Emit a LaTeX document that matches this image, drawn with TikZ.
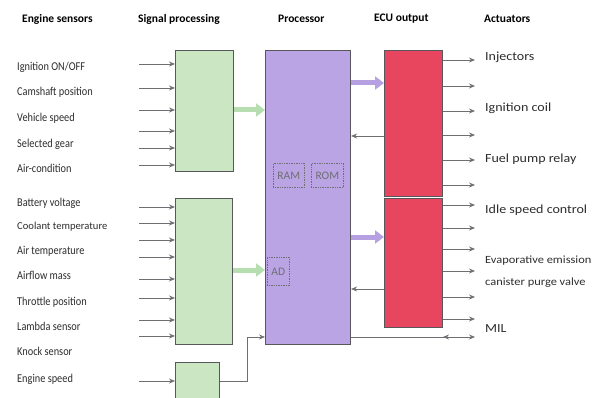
\documentclass[tikz,border=0pt]{standalone}
\usepackage{fontspec}
\setmainfont{Carlito}
\newfontfamily\narrowface[FakeStretch=0.86]{Carlito}
\newfontfamily\wideface[FakeStretch=1.13]{Carlito}
\usetikzlibrary{arrows.meta,calc}
\definecolor{boxgreen}{RGB}{203,230,194}
\definecolor{arrgreen}{RGB}{183,222,176}
\definecolor{boxviolet}{RGB}{186,164,228}
\definecolor{arrviolet}{RGB}{183,160,226}
\definecolor{boxred}{RGB}{232,70,94}
\definecolor{edgegray}{RGB}{88,88,92}
\definecolor{wiregray}{RGB}{110,110,115}
\definecolor{textgray}{RGB}{45,45,45}
\tikzstyle{block} = [draw=edgegray,line width=1.1pt,anchor=north west,inner sep=0pt]
\tikzstyle{wire} = [draw=wiregray,line width=0.8pt,-{Stealth[length=6pt,width=5pt]}]
\tikzstyle{fat} = [line width=5pt,-{Triangle[length=9pt,width=13pt]}]
\tikzstyle{mem} = [draw=wiregray,densely dotted,line width=0.7pt,anchor=north west,inner sep=0pt,
  font=\fontsize{11.5}{13}\selectfont,text=wiregray]
\tikzstyle{sensor} = [anchor=west,inner sep=0pt,text=textgray,font=\narrowface\fontsize{12}{14}\selectfont,
  text height=1.6ex,text depth=.35ex]
\tikzstyle{actuator} = [anchor=west,inner sep=0pt,text=textgray,font=\wideface\fontsize{12.4}{14}\selectfont,
  text height=1.6ex,text depth=.35ex]
\tikzstyle{head} = [anchor=west,inner sep=0pt,font=\bfseries\fontsize{11.5}{13}\selectfont]

\begin{document}
\begin{tikzpicture}[x=1pt,y=1pt,yscale=-1]
\useasboundingbox (0,0) rectangle (599,398);

% Headers
\node[head] (hsens) at (22,19) {Engine sensors};
\node[head] (hsig) at (138,19) {Signal processing};
\node[head] (hproc) at (278,19) {Processor};
\node[head] (hecu) at (374,19) {ECU output};
\node[head] (hact) at (484,19) {Actuators};

% Blocks
\node[block,fill=boxgreen,minimum width=58pt,minimum height=121pt] (sig1) at (175,50) {};
\node[block,fill=boxgreen,minimum width=57pt,minimum height=146pt] (sig2) at (175,198) {};
\node[block,fill=boxgreen,minimum width=44pt,minimum height=45pt] (sig3) at (175,362) {};
\node[block,fill=boxviolet,minimum width=85pt,minimum height=294pt] (proc) at (265,50) {};
\node[block,fill=boxred,minimum width=58pt,minimum height=146pt] (ecu1) at (384,50) {};
\node[block,fill=boxred,minimum width=58pt,minimum height=129pt] (ecu2) at (384,198) {};

% Memory and converter inside the processor
\node[mem,minimum width=31pt,minimum height=24pt] (ram) at (273,163) {RAM};
\node[mem,minimum width=32pt,minimum height=24pt] (rom) at (311,163) {ROM};
\node[mem,minimum width=22pt,minimum height=28pt] (ad) at (267,257) {AD};

% Sensor labels
\node[sensor] (s1) at (17,68) {Ignition ON/OFF};
\node[sensor] (s2) at (17,93) {Camshaft position};
\node[sensor] (s3) at (17,119) {Vehicle speed};
\node[sensor] (s4) at (17,145) {Selected gear};
\node[sensor] (s5) at (17,170) {Air-condition};
\node[sensor] (s6) at (17,204) {Battery voltage};
\node[sensor,font=\fontsize{10.6}{12}\selectfont] (s7) at (17,227) {Coolant temperature};
\node[sensor] (s8) at (17,252) {Air temperature};
\node[sensor] (s9) at (17,277) {Airflow mass};
\node[sensor] (s10) at (17,303) {Throttle position};
\node[sensor] (s11) at (17,328) {Lambda sensor};
\node[sensor] (s12) at (17,353) {Knock sensor};
\node[sensor] (s13) at (17,380) {Engine speed};

% Actuator labels
\node[actuator] (a1) at (485,58) {Injectors};
\node[actuator] (a2) at (485,109) {Ignition coil};
\node[actuator] (a3) at (485,160) {Fuel pump relay};
\node[actuator] (a4) at (485,211) {Idle speed control};
\node[actuator,font=\wideface\fontsize{11}{13}\selectfont] (a5) at (485,261) {Evaporative emission};
\node[actuator,font=\wideface\fontsize{11}{13}\selectfont] (a6) at (485,283) {canister purge valve};
\node[actuator] (a7) at (485,330) {MIL};

% Inputs
\foreach \y in {64,88,110,131,148,165}
  \draw[wire] (139,\y) -- (sig1.west |- 0,\y);
\foreach \y in {207,223,240,257,279,298,320,336}
  \draw[wire] (139,\y) -- (sig2.west |- 0,\y);
\draw[wire] (139,381) -- (sig3.west |- 0,381);

% Engine speed to processor
\coordinate (bend) at (247,381);
\draw[wire] (sig3.east |- bend) -- (bend) -- (247,337) -- (proc.west |- 0,337);

% Block arrows
\draw[fat,arrgreen] (sig1.east |- 0,110) -- (proc.west |- 0,110);
\draw[fat,arrgreen] (sig2.east |- 0,270) -- (proc.west |- 0,270);
\draw[fat,arrviolet] (proc.east |- 0,83) -- (ecu1.west |- 0,83);
\draw[fat,arrviolet] (proc.east |- 0,237) -- (ecu2.west |- 0,237);

% Feedback
\draw[wire] (ecu1.west |- 0,136) -- (proc.east |- 0,136);
\draw[wire] (ecu2.west |- 0,289) -- (proc.east |- 0,289);

% Outputs
\foreach \y in {60,86,111,135,160,185}
  \draw[wire] (ecu1.east |- 0,\y) -- (475,\y);
\foreach \y in {205,228,249,271,297,319}
  \draw[wire] (ecu2.east |- 0,\y) -- (475,\y);

% MIL
\coordinate (mil) at (475,337);
\draw[wire] (proc.east |- mil) -- (mil);
\draw[wire] (452,337) -- (443,337);

\end{tikzpicture}
\end{document}
